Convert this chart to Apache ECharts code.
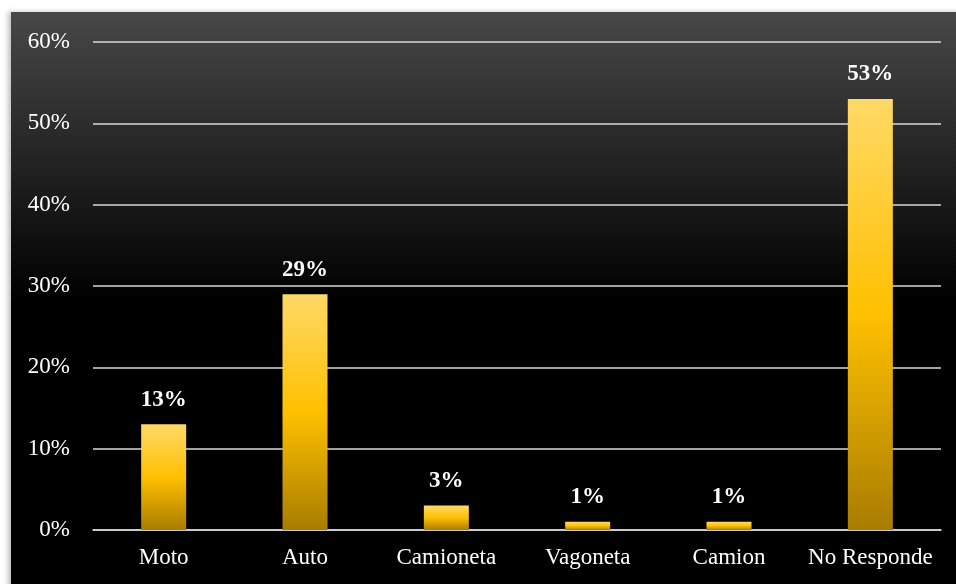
<!DOCTYPE html>
<html>
<head>
<meta charset="utf-8">
<style>
  html, body { margin: 0; padding: 0; background: #ffffff; }
  #chart { width: 956px; height: 584px; }
</style>
<script src="https://cdn.jsdelivr.net/npm/echarts@6/dist/echarts.min.js"></script>
</head>
<body>
<div id="chart"></div>
<script>
// Vehicle type shares (percent)
const categories = ['Moto', 'Auto', 'Camioneta', 'Vagoneta', 'Camion', 'No Responde'];
const values = [13, 29, 3, 1, 1, 53];
const yTicks = [0, 10, 20, 30, 40, 50, 60];

const chart = echarts.init(document.getElementById('chart'));
const serif = '"Liberation Serif", "Times New Roman", serif';

chart.setOption({
  animation: false,
  backgroundColor: '#ffffff',
  graphic: [{
    type: 'rect',
    left: 11, top: 12,
    shape: { width: 960, height: 580 },
    z: -10,
    style: {
      fill: new echarts.graphic.LinearGradient(0, 0, 0, 1, [
        { offset: 0, color: '#484848' },
        { offset: 0.5, color: '#000000' },
        { offset: 1, color: '#000000' }
      ]),
      shadowBlur: 5,
      shadowOffsetX: -3,
      shadowOffsetY: 0,
      shadowColor: 'rgba(0,0,0,0.25)'
    }
  }],
  grid: { left: 93, right: 15, top: 42, bottom: 54 },
  xAxis: {
    type: 'category',
    data: categories,
    axisLine: { show: true, lineStyle: { color: '#d9d9d9', width: 1.5 } },
    axisTick: { show: false },
    axisLabel: { color: '#ffffff', fontFamily: serif, fontSize: 23, margin: 16, interval: 0 }
  },
  yAxis: {
    type: 'value',
    min: yTicks[0],
    max: yTicks[yTicks.length - 1],
    interval: 10,
    axisLine: { show: false },
    axisTick: { show: false },
    splitLine: { lineStyle: { color: '#d9d9d9', width: 1.5 } },
    axisLabel: { color: '#ffffff', fontFamily: serif, fontSize: 23, margin: 23, formatter: '{value}%' }
  },
  series: [{
    type: 'bar',
    data: values,
    barWidth: 45,
    itemStyle: {
      color: new echarts.graphic.LinearGradient(0, 0, 0, 1, [
        { offset: 0, color: '#ffd966' },
        { offset: 0.5, color: '#ffc000' },
        { offset: 1, color: '#a87c00' }
      ])
    },
    label: {
      show: true,
      position: 'top',
      distance: 13,
      color: '#ffffff',
      fontFamily: serif,
      fontSize: 23,
      fontWeight: 'bold',
      formatter: '{c}%'
    }
  }]
});
</script>
</body>
</html>
